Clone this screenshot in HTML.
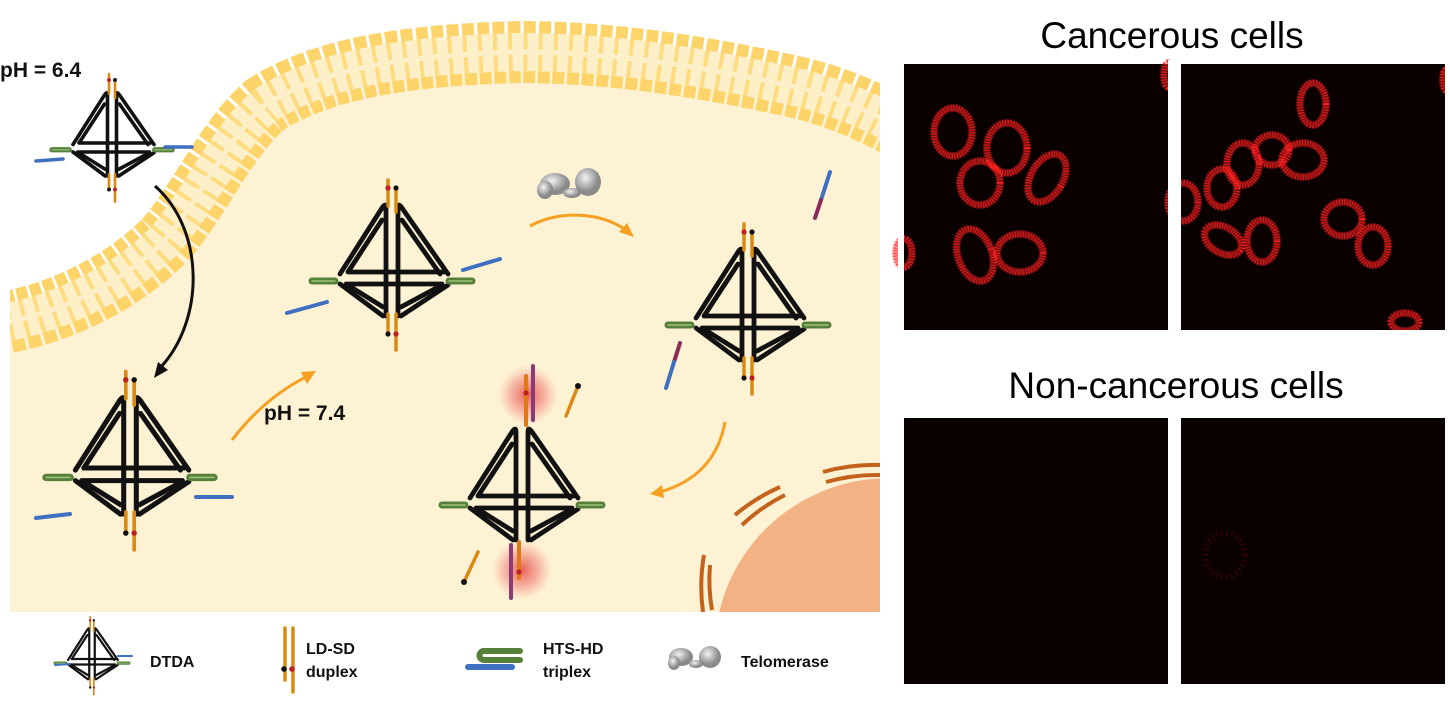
<!DOCTYPE html>
<html><head><meta charset="utf-8"><style>
html,body{margin:0;padding:0;background:#fff;width:1450px;height:706px;overflow:hidden;}
svg{display:block;font-family:"Liberation Sans",Arial,sans-serif;}
</style></head><body>
<svg width="1450" height="706" viewBox="0 0 1450 706" xmlns="http://www.w3.org/2000/svg">
<defs>
  <clipPath id="cellclip"><rect x="10" y="0" width="870" height="612"/></clipPath>
  <radialGradient id="glow"><stop offset="0" stop-color="#e03030" stop-opacity="0.75"/><stop offset="0.6" stop-color="#e85050" stop-opacity="0.35"/><stop offset="1" stop-color="#f08080" stop-opacity="0"/></radialGradient>
  <radialGradient id="blob" cx="0.4" cy="0.35"><stop offset="0" stop-color="#f2f2f2"/><stop offset="1" stop-color="#8a8a8a"/></radialGradient>
  <filter id="soft"><feGaussianBlur stdDeviation="0.5"/></filter>
  <g id="tet">
    <g fill="none" stroke="#111" stroke-width="4.8" stroke-linecap="round" stroke-linejoin="round">
      <path d="M -6,44 L -6,-64 Q -6,-70 -10,-64 L -52,2"/>
      <path d="M -10,-52 L -44,0 L 52,0"/>
      <path d="M -52,12 L -9,44"/>
      <path d="M -9,35 L -46,12 L 50,12"/>
      <path d="M 6,44 L 6,-64 Q 6,-70 10,-64 L 56,2"/>
      <path d="M 10,-52 L 48,2"/>
      <path d="M 56,13 L 9,44"/>
      <path d="M 9,35 L 50,13"/>
    </g>
    <g stroke-linecap="round">
      <line x1="-57" y1="9" x2="-80" y2="9" stroke="#55803a" stroke-width="7"/>
      <line x1="-57" y1="9" x2="-80" y2="9" stroke="#9cc27a" stroke-width="1.5"/>
      <line x1="57" y1="9" x2="80" y2="9" stroke="#55803a" stroke-width="7"/>
      <line x1="57" y1="9" x2="80" y2="9" stroke="#9cc27a" stroke-width="1.5"/>
    </g>
  </g>
  <g id="rods" stroke-linecap="round">
    <line x1="-4" y1="-92" x2="-4" y2="-66" stroke="#d98a14" stroke-width="3.5"/>
    <line x1="4" y1="-82" x2="4" y2="-60" stroke="#d98a14" stroke-width="3.5"/>
    <circle cx="-4" cy="-84" r="2.6" fill="#c02020"/>
    <circle cx="4" cy="-84" r="2.6" fill="#111"/>
    <line x1="-4" y1="42" x2="-4" y2="62" stroke="#d98a14" stroke-width="3.5"/>
    <line x1="4" y1="42" x2="4" y2="78" stroke="#d98a14" stroke-width="3.5"/>
    <circle cx="-4" cy="62" r="2.6" fill="#111"/>
    <circle cx="4" cy="62" r="2.6" fill="#c02020"/>
  </g>
</defs>

<path d="M 0,322 C 60,312 120,285 165,240 C 200,200 225,140 265,105 C 320,70 400,55 520,52 C 620,52 720,70 800,88 C 840,98 870,112 895,125 L 880,612 L 10,612 Z" fill="#fef2d4" clip-path="url(#cellclip)"/>
<g clip-path="url(#cellclip)">
  <ellipse cx="890" cy="650" rx="175" ry="172" fill="#f3b283"/>
  <g fill="none" stroke="#c4621c" stroke-width="4">
    <path d="M 712,610 A 180,178 0 0 1 710,565" />
    <path d="M 703,612 A 188,186 0 0 1 704,555" />
    <path d="M 742,525 A 180,178 0 0 1 785,495" />
    <path d="M 735,515 A 188,186 0 0 1 780,487" />
    <path d="M 826,482 A 180,178 0 0 1 880,475" />
    <path d="M 823,472 A 188,186 0 0 1 880,465" />
  </g>
</g>
<g fill="none">
  <path d="M 8,322 C 60,312 120,285 165,240 C 200,200 225,140 265,105 C 320,70 400,55 520,52 C 620,52 720,70 800,88 C 840,98 870,112 895,125" stroke="#fdd46a" stroke-width="62" stroke-dasharray="12 3"/>
  <path d="M 8,322 C 60,312 120,285 165,240 C 200,200 225,140 265,105 C 320,70 400,55 520,52 C 620,52 720,70 800,88 C 840,98 870,112 895,125" stroke="#fdefc8" stroke-width="38"/>
  <path d="M 8,322 C 60,312 120,285 165,240 C 200,200 225,140 265,105 C 320,70 400,55 520,52 C 620,52 720,70 800,88 C 840,98 870,112 895,125" stroke="#fddb7e" stroke-width="38" stroke-dasharray="4 11"/>
  <path d="M 8,322 C 60,312 120,285 165,240 C 200,200 225,140 265,105 C 320,70 400,55 520,52 C 620,52 720,70 800,88 C 840,98 870,112 895,125" stroke="#fdefc8" stroke-width="5"/>
</g>
<rect x="880" y="0" width="30" height="160" fill="#fff"/>
<rect x="0" y="280" width="10" height="80" fill="#fff"/>

<text x="0" y="77" font-size="21" font-weight="bold" fill="#111">pH = 6.4</text>
<text x="264" y="420" font-size="21" font-weight="bold" fill="#111">pH = 7.4</text>

<g transform="translate(112,143) scale(0.75)"><use href="#tet"/><use href="#rods"/></g>
<g stroke="#3f6fc0" stroke-width="3.5" stroke-linecap="round">
  <line x1="36" y1="161" x2="63" y2="159"/><line x1="165" y1="147" x2="192" y2="147"/>
</g>
<g transform="translate(130,468) scale(1.05)"><use href="#tet"/><use href="#rods"/></g>
<g stroke="#3f6fc0" stroke-width="4" stroke-linecap="round">
  <line x1="36" y1="518" x2="70" y2="514"/><line x1="196" y1="497" x2="232" y2="497"/>
</g>
<g transform="translate(392,272)"><use href="#tet"/><use href="#rods"/></g>
<g stroke="#3f6fc0" stroke-width="4" stroke-linecap="round">
  <line x1="287" y1="313" x2="327" y2="302"/><line x1="463" y1="270" x2="500" y2="259"/>
</g>
<g transform="translate(748,316)"><use href="#tet"/><use href="#rods"/></g>
<g stroke-width="4" stroke-linecap="round">
  <line x1="830" y1="172" x2="821" y2="200" stroke="#3f6fc0"/><line x1="821" y1="200" x2="815" y2="218" stroke="#8a2a5a"/>
  <line x1="680" y1="343" x2="674" y2="362" stroke="#8a2a5a"/><line x1="674" y1="362" x2="666" y2="388" stroke="#3f6fc0"/>
</g>
<circle cx="528" cy="395" r="30" fill="url(#glow)"/>
<circle cx="522" cy="570" r="30" fill="url(#glow)"/>
<g transform="translate(522,496)"><use href="#tet"/></g>
<g stroke-width="4" stroke-linecap="round">
  <line x1="526" y1="376" x2="526" y2="425" stroke="#e07818"/>
  <line x1="533" y1="366" x2="533" y2="420" stroke="#8a3a7a"/>
  <line x1="519" y1="542" x2="519" y2="578" stroke="#e07818"/>
  <line x1="511" y1="545" x2="511" y2="598" stroke="#8a3a7a"/>
  <line x1="566" y1="416" x2="578" y2="386" stroke="#d98a14" stroke-width="3.5"/>
  <line x1="464" y1="582" x2="478" y2="552" stroke="#d98a14" stroke-width="3.5"/>
</g>
<circle cx="526" cy="393" r="2.6" fill="#c02020"/><circle cx="519" cy="572" r="2.6" fill="#c02020"/>
<circle cx="578" cy="386" r="3" fill="#111"/><circle cx="464" cy="582" r="3" fill="#111"/>

<g fill="url(#blob)">
  <ellipse cx="555" cy="184" rx="15" ry="11"/><ellipse cx="545" cy="190" rx="8" ry="9"/>
  <ellipse cx="588" cy="182" rx="13" ry="14"/><ellipse cx="572" cy="193" rx="9" ry="5"/>
</g>

<g fill="none" stroke-width="3">
  <path d="M 155,186 C 205,230 205,320 160,368" stroke="#111"/>
  <path d="M 232,440 C 255,410 280,390 306,377" stroke="#f5a020"/>
  <path d="M 530,226 C 560,210 600,212 626,230" stroke="#f5a020"/>
  <path d="M 725,422 C 718,460 695,482 660,492" stroke="#f5a020"/>
</g>
<polygon points="154,378 158,362 168,370" fill="#111"/>
<polygon points="316,371 301,372 307,384" fill="#f5a020"/>
<polygon points="634,237 619,232 627,223" fill="#f5a020"/>
<polygon points="650,494 662,485 664,498" fill="#f5a020"/>

<g transform="translate(92,659) scale(0.46)"><use href="#tet"/><use href="#rods"/></g>
<g stroke="#3f6fc0" stroke-width="2" stroke-linecap="round"><line x1="55" y1="665" x2="70" y2="664"/><line x1="118" y1="656" x2="132" y2="656"/></g>
<text x="150" y="667" font-size="16" font-weight="bold" fill="#111">DTDA</text>
<g stroke="#d98a14" stroke-width="3.5" stroke-linecap="round"><line x1="285" y1="628" x2="285" y2="680"/><line x1="293" y1="628" x2="293" y2="692"/></g>
<circle cx="284" cy="669" r="2.8" fill="#111"/><circle cx="292" cy="669" r="2.8" fill="#c02020"/>
<text x="306" y="654" font-size="16" font-weight="bold" fill="#111">LD-SD</text>
<text x="306" y="677" font-size="16" font-weight="bold" fill="#111">duplex</text>
<g stroke-linecap="round">
  <path d="M 520,651 L 484,651 M 484,660 L 520,660" stroke="#55803a" stroke-width="6" fill="none"/>
  <path d="M 484,651 A 4.5,4.5 0 0 0 484,660" stroke="#55803a" stroke-width="6" fill="none"/>
  <line x1="468" y1="667" x2="512" y2="667" stroke="#3f6fc0" stroke-width="6"/>
</g>
<text x="543" y="654" font-size="16" font-weight="bold" fill="#111">HTS-HD</text>
<text x="543" y="677" font-size="16" font-weight="bold" fill="#111">triplex</text>
<g fill="url(#blob)">
  <ellipse cx="681" cy="657" rx="12" ry="9"/><ellipse cx="674" cy="663" rx="6" ry="7"/>
  <ellipse cx="710" cy="657" rx="11" ry="11"/><ellipse cx="696" cy="664" rx="7" ry="4"/>
</g>
<text x="741" y="667" font-size="16" font-weight="bold" fill="#111">Telomerase</text>

<text x="1172" y="48" font-size="37" text-anchor="middle" fill="#000">Cancerous cells</text>
<text x="1176" y="398" font-size="37" text-anchor="middle" fill="#000">Non-cancerous cells</text>
<rect x="904" y="64" width="264" height="266" fill="#0a0000"/>
<rect x="1181" y="64" width="264" height="266" fill="#0a0000"/>
<rect x="904" y="418" width="264" height="266" fill="#0a0000"/>
<rect x="1181" y="418" width="264" height="266" fill="#0a0000"/>
<g fill="none" stroke="#ff2020" stroke-width="7" stroke-dasharray="1.6 1" filter="url(#soft)">
  <ellipse cx="953" cy="132" rx="19" ry="24"/>
  <ellipse cx="1007" cy="148" rx="20" ry="25"/>
  <ellipse cx="980" cy="183" rx="20" ry="22"/>
  <ellipse cx="1047" cy="178" rx="16" ry="26" transform="rotate(30 1047 178)"/>
  <ellipse cx="975" cy="255" rx="17" ry="27" transform="rotate(-20 975 255)"/>
  <ellipse cx="1020" cy="253" rx="23" ry="19"/>
  <ellipse cx="904" cy="253" rx="8" ry="14"/>
  <ellipse cx="1313" cy="104" rx="13" ry="21"/>
  <ellipse cx="1272" cy="150" rx="17" ry="15"/>
  <ellipse cx="1303" cy="160" rx="21" ry="17"/>
  <ellipse cx="1243" cy="164" rx="16" ry="21"/>
  <ellipse cx="1222" cy="188" rx="15" ry="19"/>
  <ellipse cx="1183" cy="202" rx="15" ry="19"/>
  <ellipse cx="1223" cy="240" rx="20" ry="13" transform="rotate(30 1223 240)"/>
  <ellipse cx="1262" cy="241" rx="15" ry="21"/>
  <ellipse cx="1343" cy="219" rx="19" ry="17"/>
  <ellipse cx="1373" cy="246" rx="15" ry="19"/>
  <ellipse cx="1405" cy="322" rx="14" ry="9"/>
  <ellipse cx="1168" cy="75" rx="4" ry="12"/>
  <ellipse cx="1446" cy="80" rx="3" ry="10"/>
</g>
<rect x="1168" y="60" width="13" height="280" fill="#fff"/>
<rect x="1145" y="330" width="310" height="20" fill="#fff"/>
<rect x="1445" y="60" width="5" height="640" fill="#fff"/>
<rect x="898" y="60" width="6" height="280" fill="#fff"/>
<ellipse cx="1225" cy="555" rx="20" ry="22" fill="none" stroke="#2a0303" stroke-width="6" stroke-dasharray="2 3"/>
</svg>
</body></html>
